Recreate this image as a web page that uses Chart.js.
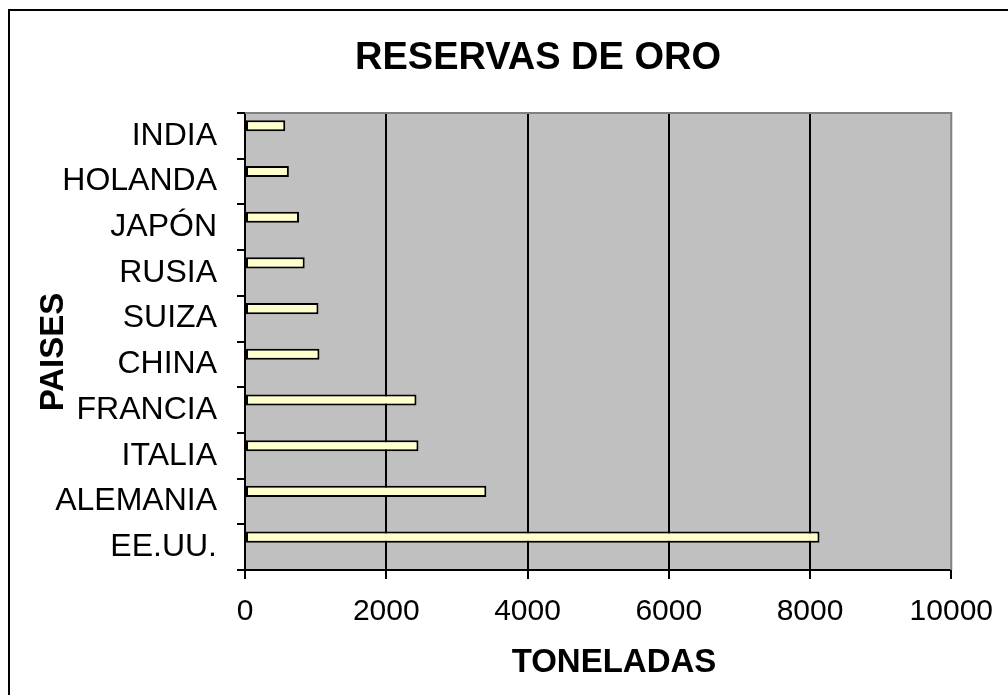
<!DOCTYPE html>
<html>
<head>
<meta charset="utf-8">
<script src="https://cdn.jsdelivr.net/npm/chart.js@4.4.1/dist/chart.umd.min.js"></script>
<style>
  html, body { margin: 0; padding: 0; background: #fff; width: 1008px; height: 695px; overflow: hidden; }
  #frame { position: absolute; left: 8px; top: 9px; width: 1100px; height: 800px; border: 2px solid #000; box-sizing: border-box; }
  #wrap { position: absolute; left: 0; top: 0; width: 1008px; height: 695px; }
</style>
</head>
<body>
<div id="frame"></div>
<div id="wrap"><canvas id="c" width="1008" height="695"></canvas></div>
<script>
const categories = ["INDIA", "HOLANDA", "JAPÓN", "RUSIA", "SUIZA", "CHINA", "FRANCIA", "ITALIA", "ALEMANIA", "EE.UU."];
const reservas = [570, 621, 765, 845, 1040, 1054, 2428, 2456, 3417, 8134];
const emptySeries = [null, null, null, null, null, null, null, null, null, null];
const xTicks = [0, 2000, 4000, 6000, 8000, 10000];
const chartTitle = "RESERVAS DE ORO";
const xTitle = "TONELADAS";
const yTitle = "PAISES";

const FONT = "'Liberation Sans', Arial, sans-serif";

const plotArea = {
  id: 'plotArea',
  beforeDraw(chart) {
    const {ctx, chartArea: a} = chart;
    ctx.save();
    ctx.fillStyle = '#C0C0C0';
    ctx.fillRect(a.left, a.top, a.right - a.left, a.bottom - a.top);
    ctx.restore();
  },
  afterDraw(chart) {
    const {ctx, chartArea: a} = chart;
    ctx.save();
    ctx.strokeStyle = '#808080';
    ctx.lineWidth = 2;
    ctx.beginPath();
    ctx.moveTo(a.left, a.top);
    ctx.lineTo(a.right, a.top);
    ctx.lineTo(a.right, a.bottom);
    ctx.stroke();

    // Chart title and axis titles, placed as in the original frame
    ctx.fillStyle = '#000';
    ctx.textAlign = 'center';
    ctx.textBaseline = 'alphabetic';
    ctx.font = "bold 38px " + FONT;
    ctx.fillText(chartTitle, 538, 69);
    ctx.font = "bold 33px " + FONT;
    ctx.fillText(xTitle, 614, 672);
    ctx.translate(63, 352);
    ctx.rotate(-Math.PI / 2);
    ctx.fillText(yTitle, 0, 0);
    ctx.restore();
  }
};

new Chart(document.getElementById('c'), {
  type: 'bar',
  data: {
    labels: categories,
    datasets: [
      { label: 'Reservas', data: reservas, backgroundColor: '#FFFFCC', borderColor: '#000', borderWidth: 2, borderSkipped: false },
      { label: 'b', data: emptySeries }
    ]
  },
  options: {
    indexAxis: 'y',
    responsive: false,
    animation: false,
    categoryPercentage: 0.88,
    barPercentage: 0.55,
    layout: { padding: { left: 30, right: 55, top: 113, bottom: 0 } },
    plugins: {
      legend: { display: false },
      tooltip: { enabled: false },
      title: { display: false }
    },
    scales: {
      x: {
        type: 'linear',
        min: 0,
        max: 10000,
        afterBuildTicks(scale) { scale.ticks = xTicks.map(v => ({ value: v })); },
        afterFit(scale) { scale.height = 125; },
        ticks: { color: '#000', font: { family: FONT, size: 30 }, padding: 15, maxRotation: 0, callback: v => String(v) },
        grid: {
          color: ctx => (ctx.tick && (ctx.tick.value === 0 || ctx.tick.value === 10000)) ? 'rgba(0,0,0,0)' : '#000',
          lineWidth: 2,
          tickColor: '#000',
          tickLength: 9,
          drawTicks: true
        },
        border: { color: '#000', width: 2 },
        title: { display: false }
      },
      y: {
        type: 'category',
        offset: true,
        afterFit(scale) { scale.width = 215; },
        ticks: { color: '#000', font: { family: FONT, size: 32 }, padding: 20 },
        grid: { offset: true, drawOnChartArea: false, drawTicks: true, tickLength: 8, tickColor: '#000', color: '#000', lineWidth: 2 },
        border: { color: '#000', width: 2 },
        title: { display: false }
      }
    }
  },
  plugins: [plotArea]
});
</script>
</body>
</html>
